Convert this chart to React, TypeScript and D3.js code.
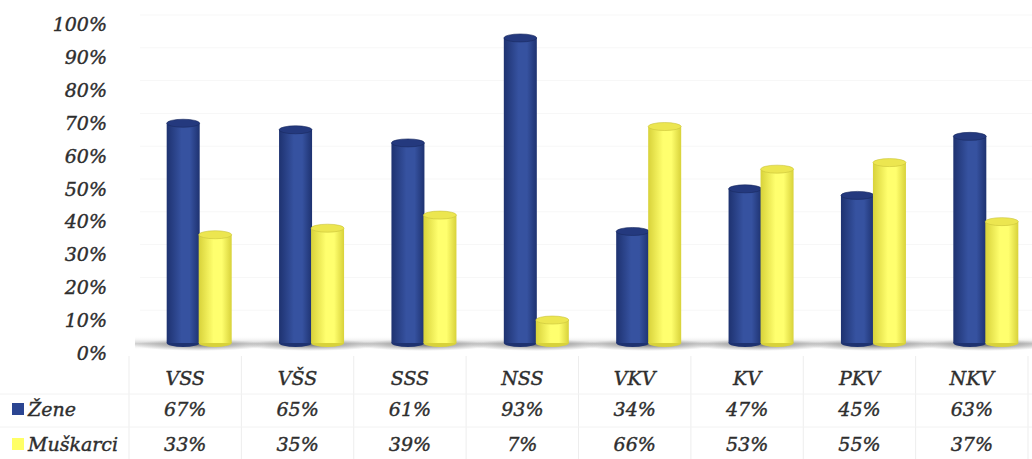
import React from "react";
import * as d3 from "d3";

const categories = ["VSS", "VŠS", "SSS", "NSS", "VKV", "KV", "PKV", "NKV"];
const series = ["Žene", "Muškarci"];
const zene = [67, 65, 61, 93, 34, 47, 45, 63];
const muskarci = [33, 35, 39, 7, 66, 53, 55, 37];
const yTicks = [0, 10, 20, 30, 40, 50, 60, 70, 80, 90, 100];

const W = 1032;
const H = 459;
const FONT = "'DejaVu Serif', serif";
const TXT = "#2e2e2e";

const txtProps = {
  fontFamily: FONT,
  fontStyle: "italic",
  fontSize: 19,
  fill: TXT,
  stroke: TXT,
  strokeWidth: 0.4,
  dominantBaseline: "central" as const,
};

export default function App() {
  const x = d3.scaleBand().domain(categories).range([129, 1028]).padding(0);
  const bw = x.bandwidth();
  const x1 = d3.scaleBand().domain(series).range([0, 64]).padding(0);
  const barW = x1.bandwidth() + 1;
  const yBar = d3.scaleLinear().domain([0, 100]).range([343, 15]);
  const yLab = d3.scaleLinear().domain([0, 100]).range([353, 24]);
  const values = [zene, muskarci];
  const colors = [
    { edge: "#1e3270", mid: "#3652a0", top: "#24397e", stroke: "#1a2a60" },
    { edge: "#d8d23a", mid: "#ffff6e", top: "#ece650", stroke: "#c9c23a" },
  ];
  const ry = 4;
  const rowY = [378, 409, 444];

  return (
    <svg width={W} height={H} style={{ position: "absolute", left: 0, top: 0, background: "#fff" }}>
      <defs>
        {colors.map((c, i) => (
          <linearGradient key={i} id={`cyl${i}`} x1="0" x2="1" y1="0" y2="0">
            <stop offset="0" stopColor={c.edge} />
            <stop offset="0.45" stopColor={c.mid} />
            <stop offset="0.7" stopColor={c.mid} />
            <stop offset="1" stopColor={c.edge} />
          </linearGradient>
        ))}
        <linearGradient id="floor" x1="0" x2="0" y1="0" y2="1">
          <stop offset="0" stopColor="#fff" stopOpacity="0" />
          <stop offset="0.55" stopColor="#b8b8b8" stopOpacity="0.7" />
          <stop offset="1" stopColor="#fff" stopOpacity="0" />
        </linearGradient>
        <radialGradient id="shadow" cx="0.5" cy="0.5" r="0.5">
          <stop offset="0" stopColor="#6a6a6a" stopOpacity="0.85" />
          <stop offset="1" stopColor="#909090" stopOpacity="0" />
        </radialGradient>
      </defs>

      {/* faint gridlines */}
      {yTicks.slice(1).map((t) => (
        <line key={t} x1={140} x2={1032} y1={yBar(t)} y2={yBar(t)} stroke="#f7f7f7" strokeWidth={1} />
      ))}

      {/* floor */}
      <rect x={135} y={336} width={897} height={14} fill="url(#floor)" />
      {categories.map((c) => (
        <ellipse key={c} cx={(x(c) as number) + bw / 2 + 14} cy={345} rx={66} ry={6} fill="url(#shadow)" />
      ))}

      {/* y axis labels */}
      {yTicks.map((t) => (
        <text key={t} x={107} y={yLab(t)} textAnchor="end" {...txtProps}>{t}%</text>
      ))}

      {/* bars */}
      {categories.map((c, ci) => (
        <g key={c}>
          {series.map((s, si) => {
            const cx = (x(c) as number) + bw / 2 - 18 + (x1(s) as number) + x1.bandwidth() / 2;
            const x0 = cx - barW / 2;
            const yt = yBar(values[si][ci]);
            const yb = yBar(0);
            const col = colors[si];
            return (
              <g key={s}>
                <ellipse cx={cx} cy={yb} rx={barW / 2} ry={ry} fill={col.edge} />
                <rect x={x0} y={yt} width={barW} height={yb - yt} fill={`url(#cyl${si})`} />
                <ellipse cx={cx} cy={yt} rx={barW / 2} ry={ry} fill={col.top} stroke={col.stroke} strokeWidth={0.6} />
              </g>
            );
          })}
        </g>
      ))}

      {/* table grid */}
      {d3.range(categories.length + 1).map((i) => {
        const xx = 129 + i * bw;
        return <line key={i} x1={xx} x2={xx} y1={356} y2={459} stroke="#ededed" strokeWidth={1} />;
      })}
      {[394, 427].map((yy) => (
        <line key={yy} x1={0} x2={1032} y1={yy} y2={yy} stroke="#f2f2f2" strokeWidth={1} />
      ))}

      {/* table text */}
      {categories.map((c, ci) => {
        const cx = (x(c) as number) + bw / 2;
        return (
          <g key={c}>
            <text x={cx} y={rowY[0]} textAnchor="middle" {...txtProps}>{c}</text>
            <text x={cx} y={rowY[1]} textAnchor="middle" {...txtProps}>{zene[ci]}%</text>
            <text x={cx} y={rowY[2]} textAnchor="middle" {...txtProps}>{muskarci[ci]}%</text>
          </g>
        );
      })}

      {/* legend rows */}
      {series.map((s, si) => (
        <g key={s}>
          <rect x={12} y={rowY[si + 1] - 6} width={12} height={12} fill={si === 0 ? "#2b4592" : "#ffff66"} />
          <text x={28} y={rowY[si + 1]} {...txtProps}>{s}</text>
        </g>
      ))}
    </svg>
  );
}
